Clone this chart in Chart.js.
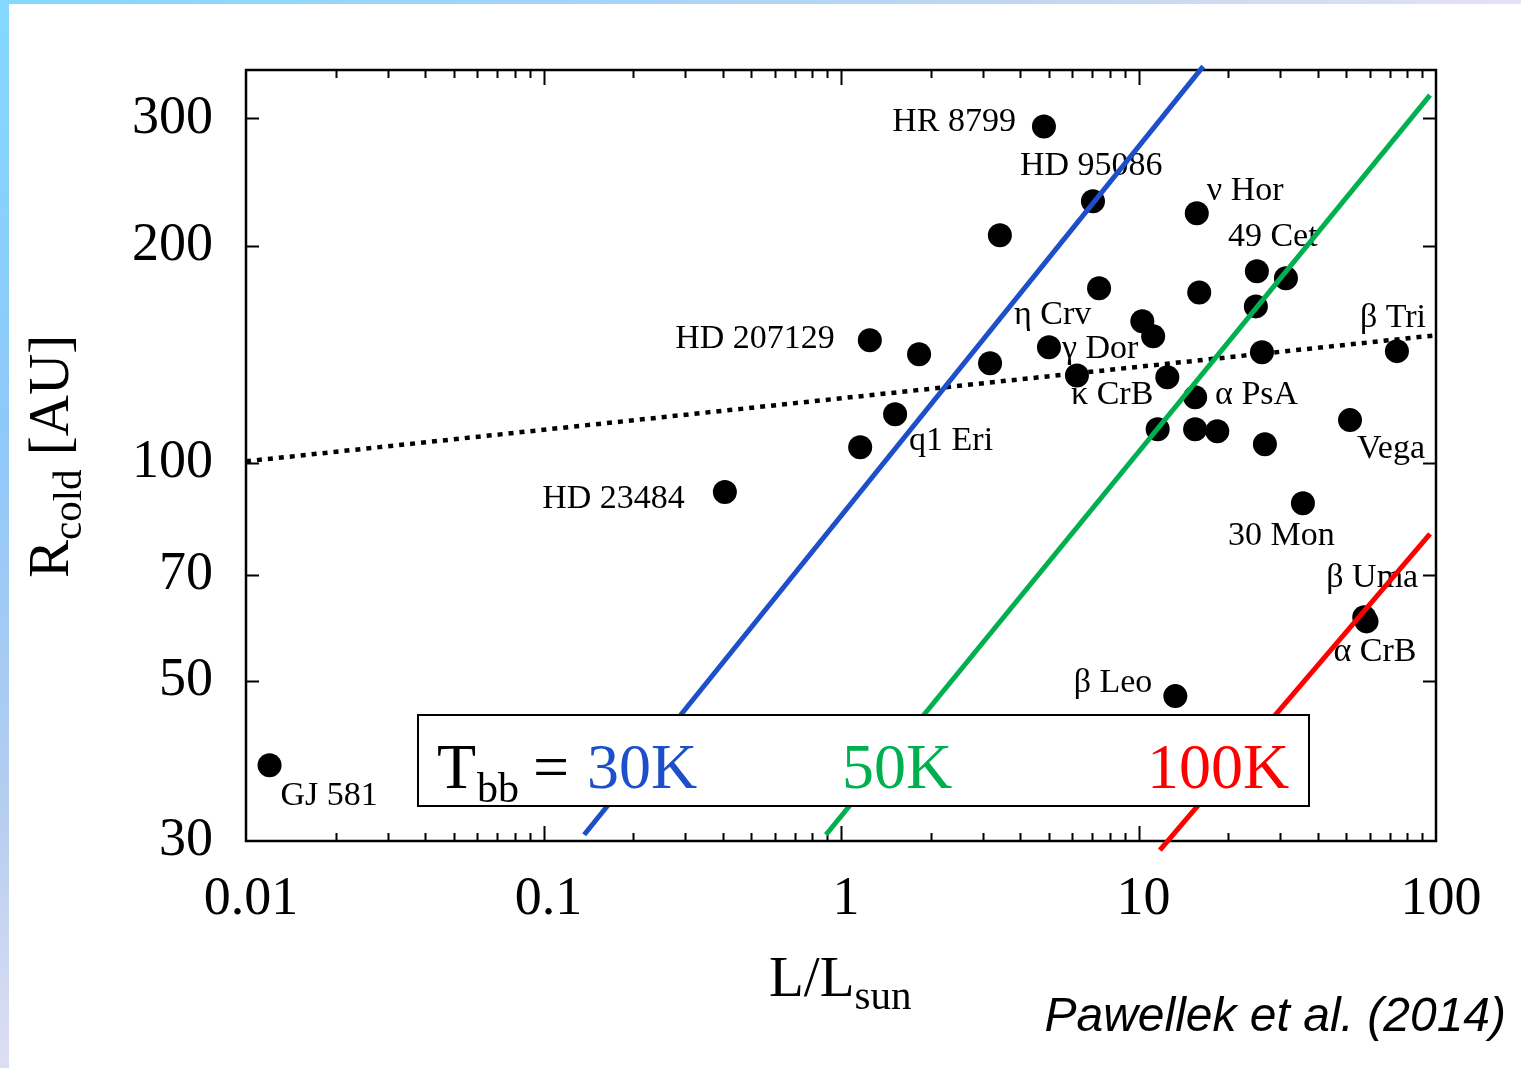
<!DOCTYPE html>
<html>
<head>
<meta charset="utf-8">
<title>Cold belt radius vs stellar luminosity</title>
<script src="https://cdn.jsdelivr.net/npm/chart.js@4/dist/chart.umd.min.js"></script>
<style>
  html, body { margin: 0; padding: 0; background: #ffffff; }
  #wrap { position: relative; width: 1521px; height: 1068px; overflow: hidden; background: #ffffff; }
  #chart { position: absolute; left: 0; top: 0; }
  .edge-top { position: absolute; left: 0; top: 0; width: 1521px; height: 4px;
    background: linear-gradient(to right, #84d8fe 0%, #a6d4f8 40%, #c6d8f0 72%, #e4e2f6 100%); }
  .edge-left { position: absolute; left: 0; top: 0; width: 9px; height: 1068px;
    background: linear-gradient(to bottom, #84d8fe 0%, #8ec8fa 40%, #b4cdf0 75%, #dedef2 100%); }
</style>
</head>
<body>
<div id="wrap">
  <canvas id="chart" width="1521" height="1068"></canvas>
  <div class="edge-top"></div>
  <div class="edge-left"></div>
</div>
<script>
// Debris discs: stellar luminosity (L/Lsun) and cold belt radius (AU)
const starNames = [
  'GJ 581', 'HD 23484', '', 'q1 Eri', 'HD 207129', '', '', '', 'HR 8799', 'HD 95086',
  '', 'η Crv', 'γ Dor', '', '', 'κ CrB', '', 'α PsA', '', '',
  'ν Hor', '', '49 Cet', '', '', '', '', 'Vega', 'β Tri', '30 Mon',
  'β Uma', 'α CrB', 'β Leo'
];
const luminosity = [
  0.0120, 0.407, 1.16, 1.52, 1.25, 1.83, 3.17, 3.42, 4.81, 7.03,
  7.37, 5.00, 6.21, 10.3, 11.2, 12.5, 11.6, 15.5, 15.5, 18.4,
  15.7, 16.0, 25.0, 31.3, 24.8, 26.0, 26.6, 51.4, 73.9, 35.7,
  57.4, 58.4, 13.3
];
const coldRadius = [
  38.2, 91.2, 105.2, 116.9, 147.9, 141.5, 137.5, 206.7, 292.4, 230.3,
  174.6, 144.7, 132.2, 157.2, 149.8, 131.5, 111.4, 123.4, 111.4, 110.7,
  221.7, 172.3, 184.3, 180.2, 164.8, 142.4, 106.2, 114.7, 142.9, 88.0,
  61.2, 60.4, 47.6
];

// Power-law fit through the sample (dotted)
const fitLum = [0.01, 100];
const fitRadius = [100.6, 150.3];

// Blackbody radii for fixed dust temperatures
const bb30Lum = [0.137, 16.5];
const bb30Radius = [30.6, 354];
const bb50Lum = [0.89, 95.5];
const bb50Radius = [30.6, 323];
const bb100Lum = [11.8, 95.5];
const bb100Radius = [29.15, 79.8];
const bbLabels = ['30K', '50K', '100K'];

// Axis ticks
const xTickValues = [0.01, 0.1, 1, 10, 100];
const xTickLabels = ['0.01', '0.1', '1', '10', '100'];
const yTickValues = [30, 50, 70, 100, 200, 300];
const yTickLabels = ['30', '50', '70', '100', '200', '300'];

// ---- styling / placement -------------------------------------------------
const SERIF = '"Liberation Serif", "Times New Roman", serif';
const BLUE = '#1c4fc9';
const GREEN = '#00b04f';
const RED = '#ff0000';

// offset of each star's name from its marker: [dx, dy(baseline), align]
const labelPlacement = {
  'GJ 581': [11, 40, 'left'],
  'HD 23484': [-40, 16, 'right'],
  'q1 Eri': [14, 36, 'left'],
  'HD 207129': [-35, 8, 'right'],
  'HR 8799': [-28, 5, 'right'],
  'HD 95086': [-73, -26, 'left'],
  'η Crv': [-35, -23, 'left'],
  'γ Dor': [-15, -18, 'left'],
  'κ CrB': [-14, 27, 'right'],
  'α PsA': [20, 7, 'left'],
  'ν Hor': [10, -13, 'left'],
  '49 Cet': [-29, -25, 'left'],
  'β Tri': [-37, -24, 'left'],
  'Vega': [7, 38, 'left'],
  '30 Mon': [-75, 42, 'left'],
  'β Uma': [-38, -30, 'left'],
  'α CrB': [-33, 40, 'left'],
  'β Leo': [-23, -4, 'right']
};

const toPoints = (xs, ys) => xs.map((v, i) => ({ x: v, y: ys[i] }));

// Frame, inward tick marks, star names and axis titles
const decorations = {
  id: 'decorations',
  beforeDatasetsDraw(chart) {
    const { ctx, chartArea: a, scales: { x, y } } = chart;
    ctx.save();
    ctx.strokeStyle = '#000';
    ctx.lineWidth = 2.5;
    ctx.strokeRect(a.left, a.top, a.right - a.left, a.bottom - a.top);

    ctx.lineWidth = 2;
    ctx.beginPath();
    for (let d = -2; d <= 1; d++) {
      for (let m = 1; m <= 9; m++) {
        const v = m * Math.pow(10, d);
        if (v <= x.min || v >= x.max) continue;
        const px = Math.round(x.getPixelForValue(v)) + 0.5;
        const len = m === 1 ? 15 : 8;
        ctx.moveTo(px, a.bottom); ctx.lineTo(px, a.bottom - len);
        ctx.moveTo(px, a.top); ctx.lineTo(px, a.top + len);
      }
    }
    yTickValues.forEach(v => {
      if (v <= y.min || v >= y.max) return;
      const py = Math.round(y.getPixelForValue(v)) + 0.5;
      ctx.moveTo(a.left, py); ctx.lineTo(a.left + 13, py);
      ctx.moveTo(a.right, py); ctx.lineTo(a.right - 13, py);
    });
    ctx.stroke();

    // star names
    const meta = chart.getDatasetMeta(4);
    ctx.fillStyle = '#000';
    ctx.font = '34px ' + SERIF;
    ctx.textBaseline = 'alphabetic';
    starNames.forEach((name, i) => {
      const p = labelPlacement[name];
      if (!name || !p) return;
      const el = meta.data[i];
      ctx.textAlign = p[2];
      ctx.fillText(name, el.x + p[0], el.y + p[1]);
    });
    ctx.restore();
  },
  afterDatasetsDraw(chart) {
    const { ctx, chartArea: a } = chart;
    ctx.save();
    // temperature key box
    const bx = a.left + 172, by = a.bottom - 126, bw = 891, bh = 91;
    ctx.fillStyle = '#fff';
    ctx.fillRect(bx, by, bw, bh);
    ctx.strokeStyle = '#000';
    ctx.lineWidth = 2;
    ctx.strokeRect(bx, by, bw, bh);

    const base = by + 73;
    ctx.textBaseline = 'alphabetic';
    ctx.textAlign = 'left';
    ctx.fillStyle = '#000';
    ctx.font = '64px ' + SERIF;
    ctx.fillText('T', bx + 19, base);
    ctx.font = '42px ' + SERIF;
    ctx.fillText('bb', bx + 59, base + 14);
    ctx.font = '64px ' + SERIF;
    ctx.fillText('=', bx + 115, base);
    const keyColors = [BLUE, GREEN, RED];
    const keyX = [169, 424, 729];
    bbLabels.forEach((t, i) => {
      ctx.fillStyle = keyColors[i];
      ctx.fillText(t, bx + keyX[i], base);
    });

    // y-axis title: R_cold [AU]
    ctx.fillStyle = '#000';
    ctx.save();
    ctx.translate(68, 578);
    ctx.rotate(-Math.PI / 2);
    ctx.font = '57px ' + SERIF;
    ctx.fillText('R', 0, 0);
    let w = ctx.measureText('R').width;
    ctx.font = '41px ' + SERIF;
    ctx.fillText('cold', w, 13);
    w += ctx.measureText('cold').width;
    ctx.font = '57px ' + SERIF;
    ctx.fillText(' [AU]', w, 0);
    ctx.restore();

    // x-axis title: L/L_sun
    ctx.font = '57px ' + SERIF;
    ctx.fillText('L/L', 769, 996);
    const wl = ctx.measureText('L/L').width;
    ctx.font = '41px ' + SERIF;
    ctx.fillText('sun', 769 + wl, 1009);

    // citation
    ctx.font = 'italic 48px "Liberation Sans", Arial, sans-serif';
    ctx.textAlign = 'right';
    ctx.fillText('Pawellek et al. (2014)', 1506, 1031);
    ctx.restore();
  }
};

new Chart(document.getElementById('chart'), {
  type: 'scatter',
  data: {
    datasets: [
      {
        label: '30 K', data: toPoints(bb30Lum, bb30Radius), showLine: true,
        borderColor: BLUE, borderWidth: 5, pointRadius: 0, clip: false
      },
      {
        label: '50 K', data: toPoints(bb50Lum, bb50Radius), showLine: true,
        borderColor: GREEN, borderWidth: 5, pointRadius: 0, clip: false
      },
      {
        label: '100 K', data: toPoints(bb100Lum, bb100Radius), showLine: true,
        borderColor: RED, borderWidth: 5, pointRadius: 0, clip: false
      },
      {
        label: 'fit', data: toPoints(fitLum, fitRadius), showLine: true,
        borderColor: '#000', borderWidth: 4.5, borderDash: [5, 6], pointRadius: 0
      },
      {
        label: 'discs', data: toPoints(luminosity, coldRadius),
        pointRadius: 12, pointBackgroundColor: '#000', pointBorderWidth: 0,
        pointHoverRadius: 12
      }
    ]
  },
  options: {
    responsive: false,
    animation: false,
    events: [],
    layout: { padding: { left: 0, top: 70, right: 85, bottom: 0 } },
    plugins: { legend: { display: false }, tooltip: { enabled: false } },
    scales: {
      x: {
        type: 'logarithmic', min: 0.01, max: 100,
        grid: { display: false, drawTicks: false }, border: { display: false },
        afterFit: s => { s.height = 227; },
        afterBuildTicks: s => { s.ticks = xTickValues.map(v => ({ value: v, major: true })); },
        ticks: {
          autoSkip: false, maxRotation: 0, padding: 26, labelOffset: 5, color: '#000',
          font: { family: SERIF, size: 54 },
          callback: (v, i) => xTickLabels[i]
        }
      },
      y: {
        type: 'logarithmic', min: 30, max: 350,
        grid: { display: false, drawTicks: false }, border: { display: false },
        afterFit: s => { s.width = 246; },
        afterBuildTicks: s => { s.ticks = yTickValues.map(v => ({ value: v, major: true })); },
        ticks: {
          autoSkip: false, padding: 33, color: '#000',
          font: { family: SERIF, size: 54 },
          callback: (v, i) => yTickLabels[i]
        }
      }
    }
  },
  plugins: [decorations]
});
</script>
</body>
</html>
